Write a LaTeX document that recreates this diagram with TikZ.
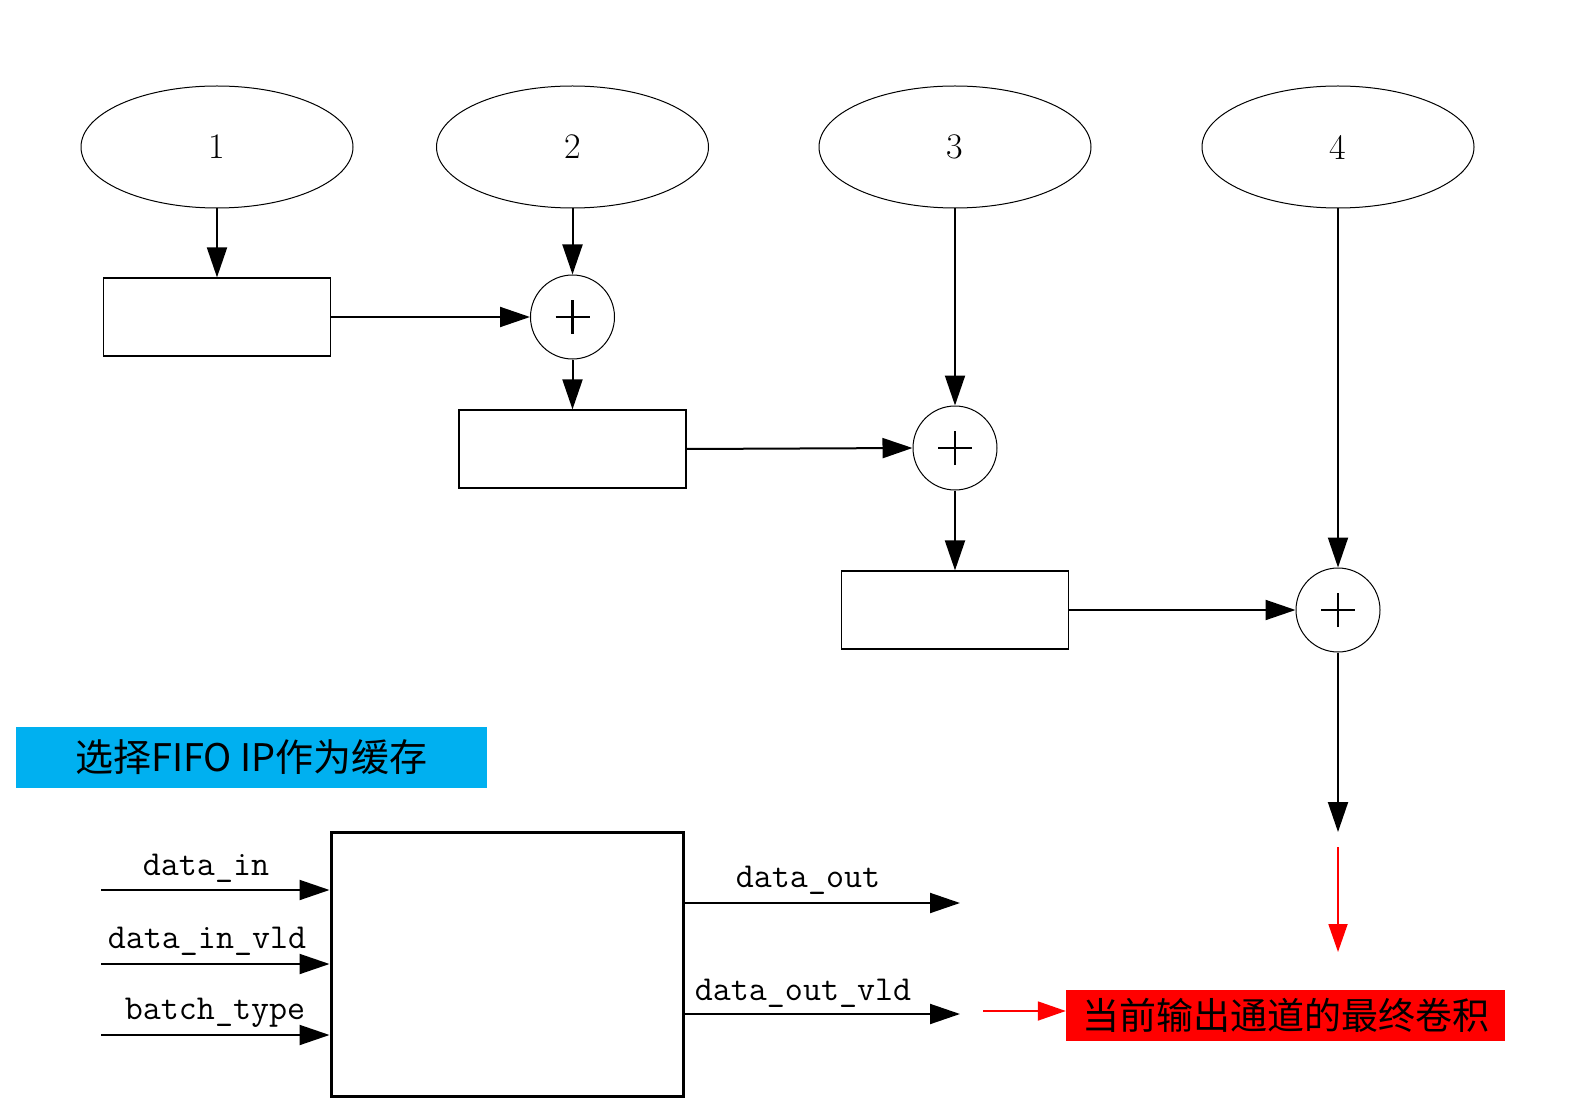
\documentclass[tikz,border=0pt]{standalone}
\usepackage{fontspec}
\newfontfamily\cjk{Noto Sans CJK SC}
\usetikzlibrary{shapes.geometric,arrows.meta}
\definecolor{fifoblue}{HTML}{00B0F0}
\definecolor{outred}{HTML}{FF0000}
\begin{document}
\begin{tikzpicture}[x=1pt,y=-1pt,
  ell/.style={draw,ellipse,line width=1pt,minimum width=272pt,minimum height=122pt,inner sep=0pt,font=\fontsize{36}{40}\selectfont},
  reg/.style={draw,rectangle,line width=1.2pt,minimum width=227pt,minimum height=78pt,inner sep=0pt},
  adder/.style={draw,circle,line width=1pt,minimum size=84pt,inner sep=0pt},
  arr/.style={line width=2pt,-{Triangle[length=30pt,width=20pt]}},
  redarr/.style={outred,line width=1.8pt,-{Triangle[length=28pt,width=19pt]}},
  lbl/.style={font=\ttfamily\fontsize{35}{40}\selectfont,anchor=base,inner sep=0pt},
  block/.style={draw,line width=3pt,minimum width=352pt,minimum height=264pt,inner sep=0pt},
  plussign/.style={line width=2.2pt}
]
\useasboundingbox (0,0) rectangle (1569,1115);

% ellipses
\node[ell] (e1) at (217,147) {1};
\node[ell] (e2) at (572.5,147) {2};
\node[ell] (e3) at (955,147) {3};
\node[ell] (e4) at (1338,147) {4};

% registers
\node[reg] (r1) at (217,317) {};
\node[reg] (r2) at (572.5,449) {};
\node[reg] (r3) at (955,610) {};

% adders
\node[adder] (a2) at (572.5,317) {};
\node[adder] (a3) at (955,448) {};
\node[adder] (a4) at (1338,610) {};
\foreach \a in {a2,a3,a4}{
  \draw[plussign] ([xshift=-17pt]\a.center) -- ([xshift=17pt]\a.center);
  \draw[plussign] ([yshift=-17pt]\a.center) -- ([yshift=17pt]\a.center);
}

% connectors
\draw[arr] (e1.south) -- (r1.north);
\draw[arr] (e2.south) -- (a2.north);
\draw[arr] (r1.east) -- (a2.west);
\draw[arr] (a2.south) -- (r2.north);
\draw[arr] (r2.east) -- (a3.west);
\draw[arr] (e3.south) -- (a3.north);
\draw[arr] (a3.south) -- (r3.north);
\draw[arr] (r3.east) -- (a4.west);
\draw[arr] (e4.south) -- (a4.north);
\coordinate (sumend) at (1338,832);
\draw[arr] (a4.south) -- (sumend);

% red arrow down
\coordinate (rs) at (1338,847);
\coordinate (re) at (1338,952);
\draw[redarr] (rs) -- (re);

% blue label
\node[fill=fifoblue,minimum width=471pt,minimum height=61pt,inner sep=0pt,font=\cjk\fontsize{38}{40}\selectfont] (fifo) at (251.5,757.5) {选择FIFO IP作为缓存};

% FIFO block
\node[block] (blk) at (507,964) {};

% inputs
\coordinate (i1) at (101,890);
\coordinate (i2) at (101,964);
\coordinate (i3) at (101,1035);
\draw[arr] (i1) -- (i1 -| blk.west);
\draw[arr] (i2) -- (i2 -| blk.west);
\draw[arr] (i3) -- (i3 -| blk.west);
\node[lbl] (l1) at (206,875) {data\_in};
\node[lbl] (l2) at (207,948) {data\_in\_vld};
\node[lbl] (l3) at (215,1019) {batch\_type};

% outputs
\coordinate (o1) at (960,903);
\coordinate (o2) at (960,1014);
\draw[arr] (o1 -| blk.east) -- (o1);
\draw[arr] (o2 -| blk.east) -- (o2);
\node[lbl] (l4) at (808,887) {data\_out};
\node[lbl] (l5) at (803,1000) {data\_out\_vld};

% red result box
\node[fill=outred,minimum width=439pt,minimum height=51pt,inner sep=0pt,font=\cjk\fontsize{37}{40}\selectfont] (res) at (1285.5,1015.5) {当前输出通道的最终卷积};
\coordinate (rl) at (983,1011);
\draw[redarr] (rl) -- (rl -| res.west);
\end{tikzpicture}
\end{document}
